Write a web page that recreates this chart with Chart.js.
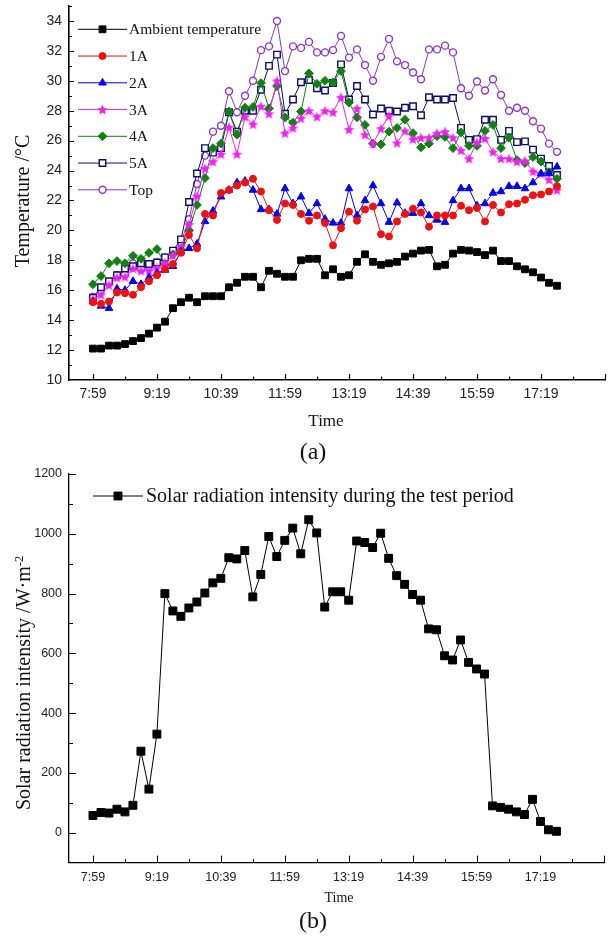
<!DOCTYPE html>
<html><head><meta charset="utf-8">
<script src="https://cdn.jsdelivr.net/npm/chart.js@4.4.1/dist/chart.umd.min.js"></script>
<style>
html,body{margin:0;padding:0;background:#fff;}
#wrap{position:relative;width:611px;height:940px;overflow:hidden;background:#fff;}
canvas{position:absolute;left:0;}
.t{position:absolute;font-family:"Liberation Serif","Times New Roman",serif;color:#111;white-space:nowrap;transform:translate(-50%,-50%);line-height:1;}
.rot{transform:translate(-50%,-50%) rotate(-90deg);}
sup{font-size:0.62em;vertical-align:0.55em;}
</style></head>
<body><div id="wrap">
<canvas id="ca" width="611" height="440" style="top:0"></canvas>
<canvas id="cb" width="611" height="450" style="top:460px"></canvas>
<div class="t rot" style="left:22px;top:201px;font-size:20px;">Temperature /°C</div>
<div class="t" style="left:326px;top:420px;font-size:17px;">Time</div>
<div class="t" style="left:313px;top:451px;font-size:24px;">(a)</div>
<div class="t rot" style="left:23px;top:683px;font-size:20px;">Solar radiation intensity /W·m<sup>-2</sup></div>
<div class="t" style="left:339px;top:898px;font-size:14px;">Time</div>
<div class="t" style="left:313px;top:920px;font-size:24px;">(b)</div>
</div>
<script>
// ---------- data ----------
const times = ['7:59','8:09','8:19','8:29','8:39','8:49','8:59','9:09','9:19','9:29',
 '9:39','9:49','9:59','10:09','10:19','10:29','10:39','10:49','10:59','11:09',
 '11:19','11:29','11:39','11:49','11:59','12:09','12:19','12:29','12:39','12:49',
 '12:59','13:09','13:19','13:29','13:39','13:49','13:59','14:09','14:19','14:29',
 '14:39','14:49','14:59','15:09','15:19','15:29','15:39','15:49','15:59','16:09',
 '16:19','16:29','16:39','16:49','16:59','17:09','17:19','17:29','17:39'];
const xTickLabels = ['7:59','9:19','10:39','11:59','13:19','14:39','15:59','17:19'];
const yTickLabelsA = [10,12,14,16,18,20,22,24,26,28,30,32,34];
const yTickLabelsB = [0,200,400,600,800,1000,1200];

const ambient = [12.1,12.1,12.3,12.3,12.4,12.6,12.8,13.1,13.5,13.9,
 14.8,15.2,15.5,15.2,15.6,15.6,15.6,16.2,16.5,16.9,
 16.9,16.2,17.3,17.1,16.9,16.9,18.0,18.1,18.1,17.0,
 17.4,16.9,17.0,17.9,18.4,17.9,17.7,17.8,17.9,18.25,
 18.45,18.65,18.7,17.6,17.7,18.45,18.7,18.65,18.55,18.35,
 18.65,17.95,17.95,17.6,17.4,17.2,16.85,16.5,16.3];
const s1A = [15.2,15.1,15.25,15.85,15.8,15.7,16.2,16.6,17.0,17.4,
 17.75,18.5,19.7,18.8,21.1,21.0,22.5,22.7,23.0,23.2,
 23.45,22.6,21.35,20.7,21.8,21.7,21.1,20.65,21.0,20.5,
 19.0,20.15,21.25,20.65,21.4,21.6,19.75,19.6,20.6,21.1,
 21.45,21.2,20.25,21.0,21.0,21.0,21.65,21.35,21.5,20.6,
 21.7,21.2,21.75,21.8,22.05,22.35,22.4,22.6,22.95];
const s2A = [15.25,14.95,14.8,16.1,16.0,16.6,16.4,16.85,17.15,17.35,
 17.6,18.6,18.8,19.1,20.6,21.3,22.25,22.7,23.2,23.3,
 22.7,21.4,21.4,21.1,22.8,21.8,22.25,21.15,21.8,20.75,
 20.5,20.5,22.8,21.0,22.0,23.0,21.8,20.55,21.85,21.15,
 21.15,21.8,21.0,20.7,20.55,22.0,22.8,22.8,21.65,21.8,
 22.5,22.6,22.95,22.95,22.8,23.2,23.8,23.8,24.25];
const s3A = [15.4,15.7,16.35,16.85,16.9,17.45,17.3,17.3,17.5,17.85,
 18.35,18.9,20.4,22.3,24.15,24.6,25.1,26.9,25.1,27.6,
 27.1,28.3,27.8,30.0,26.5,26.85,27.5,28.0,27.6,28.0,
 27.9,28.9,26.75,28.15,26.4,25.8,26.8,27.65,25.85,26.65,
 26.1,26.2,26.2,26.5,26.6,26.2,25.35,24.8,25.9,26.15,
 25.25,24.8,24.8,24.6,24.65,23.95,23.8,23.4,22.7];
const s4A = [16.4,16.95,17.8,17.95,17.8,18.3,18.1,18.5,18.75,17.7,
 18.4,18.7,20.0,21.7,23.5,25.5,25.8,27.95,26.4,28.2,
 28.25,29.85,28.15,29.65,27.55,27.2,27.95,30.5,29.8,30.0,
 29.9,30.65,28.55,27.55,27.05,25.8,25.75,26.6,26.85,27.4,
 26.5,25.55,25.8,26.3,26.25,25.5,26.55,25.65,25.65,26.65,
 27.05,25.5,26.2,24.7,24.5,24.9,24.6,23.9,23.45];
const s5A = [15.5,16.2,16.6,17.0,17.45,17.6,17.8,17.75,17.85,18.2,
 18.65,19.4,21.9,23.8,25.5,25.2,25.5,27.9,26.6,28.0,
 28.0,29.4,31.0,31.75,27.8,28.75,29.9,30.05,29.5,29.35,
 29.85,31.1,28.75,29.65,28.75,27.75,28.15,28.0,27.95,28.2,
 28.3,27.7,28.9,28.75,28.75,28.85,26.85,26.05,26.1,27.4,
 27.4,26.05,26.65,25.9,25.95,25.4,24.8,24.3,23.7];
const sTop = [15.55,16.0,16.5,17.0,17.05,17.8,17.4,17.6,17.85,18.2,
 18.5,19.2,20.75,23.1,25.0,26.6,27.0,29.3,27.9,29.0,
 30.0,32.05,32.3,34.0,30.65,32.3,32.2,32.6,31.9,31.9,
 32.05,33.0,31.55,32.1,31.05,30.0,31.6,32.8,31.3,31.05,
 30.55,30.1,32.1,32.1,32.35,31.9,29.5,29.0,29.95,29.35,
 30.1,29.05,28.0,28.2,28.0,27.3,26.8,25.8,25.25];
const solar = [58,68,66,79,70,92,273,146,330,800,
 742,724,752,772,802,836,851,920,916,944,
 789,864,991,924,978,1019,933,1047,1003,755,
 806,806,778,976,971,954,1002,918,860,831,
 797,778,682,679,592,578,645,570,548,531,
 90,85,79,70,61,112,38,10,5];

// ---------- helpers ----------
const mins = s => { const [h,m] = s.split(':').map(Number); return h*60+m; };
const t0 = mins(times[0]);
const toXY = arr => arr.map((v,i) => ({x: mins(times[i]) - t0, y: v}));
const xTickVals = xTickLabels.map(s => mins(s) - t0);

function makeStar(color, size){
  const c = document.createElement('canvas'); c.width = c.height = size;
  const g = c.getContext('2d'); g.fillStyle = color; g.beginPath();
  const R = size/2, r = R*0.45, cx = size/2, cy = size/2 + 0.6;
  for (let k=0;k<10;k++){ const a = -Math.PI/2 + k*Math.PI/5; const rr = k%2 ? r : R;
    g.lineTo(cx + rr*Math.cos(a), cy + rr*Math.sin(a)); }
  g.closePath(); g.fill(); return c;
}

function ds(label, arr, color, style, radius, fill, bw){
  return {label, data: toXY(arr), borderColor: color, backgroundColor: color, borderWidth: 1,
    pointStyle: style, pointRadius: radius, pointHoverRadius: radius,
    pointBackgroundColor: fill || color, pointBorderColor: color, pointBorderWidth: bw || 1, tension: 0};
}

const axisTicks = {
  id: 'axisTicks',
  afterDraw(chart, args, o){
    const ctx = chart.ctx, xs = chart.scales.x, ys = chart.scales.y, ca = chart.chartArea;
    ctx.save(); ctx.strokeStyle = '#000'; ctx.lineWidth = o.width; ctx.beginPath();
    const xs0 = xTickVals[0], xstep = xTickVals[1] - xTickVals[0];
    for (let v = xs0 - xstep; v <= xs.max + 0.1; v += xstep/2){
      const p = xs.getPixelForValue(v); if (p < ca.left + 1 || p > ca.right) continue;
      const major = Math.abs(((v - xs0) / xstep) - Math.round((v - xs0)/xstep)) < 1e-6;
      const len = major ? o.xMaj : o.xMin;
      ctx.moveTo(Math.round(p)+0.5, ca.bottom); ctx.lineTo(Math.round(p)+0.5, ca.bottom - len);
    }
    for (let v = ys.min; v <= ys.max + 1e-6; v += o.yMinorStep){
      const p = ys.getPixelForValue(v); if (p > ca.bottom - 1) continue;
      const major = Math.abs(v/o.yMajorStep - Math.round(v/o.yMajorStep)) < 1e-6;
      const len = major ? o.yMaj : o.yMin;
      ctx.moveTo(ca.left, Math.round(p)+0.5); ctx.lineTo(ca.left + len, Math.round(p)+0.5);
    }
    ctx.stroke(); ctx.restore();
  }
};

const lineLegend = {
  id: 'lineLegend',
  afterDraw(chart, args, o){
    const ctx = chart.ctx;
    chart.data.datasets.forEach((d, i) => {
      const y = o.y + i*o.dy, xm = (o.x0 + o.x1)/2;
      ctx.save();
      ctx.strokeStyle = d.borderColor; ctx.lineWidth = 1;
      ctx.beginPath(); ctx.moveTo(o.x0, y); ctx.lineTo(o.x1, y); ctx.stroke();
      ctx.fillStyle = d.pointBackgroundColor; ctx.strokeStyle = d.pointBorderColor; ctx.lineWidth = d.pointBorderWidth;
      Chart.helpers.drawPoint(ctx, {pointStyle: d.pointStyle, radius: d.pointRadius, borderWidth: d.pointBorderWidth, rotation: 0}, xm, y);
      ctx.fillStyle = '#111'; ctx.font = o.font; ctx.textBaseline = 'middle'; ctx.textAlign = 'left';
      ctx.fillText(d.label, o.tx, y + 1);
      ctx.restore();
    });
  }
};

function xScale(fontSize, pad, h, bw){
  return {type: 'linear', min: -30, max: 640,
    grid: {display: false, drawTicks: false}, border: {display: true, color: '#000', width: bw},
    afterBuildTicks: s => { s.ticks = xTickVals.map(v => ({value: v})); },
    ticks: {padding: pad, autoSkip: false, maxRotation: 0, color: '#222',
      font: {family: 'Liberation Sans', size: fontSize}, callback: (v, i) => xTickLabels[i]},
    afterFit: s => { s.height = h; s.paddingLeft = 0; s.paddingRight = 0; }};
}
function yScale(min, max, vals, fontSize, pad, bw){
  return {type: 'linear', min, max,
    grid: {display: false, drawTicks: false}, border: {display: true, color: '#000', width: bw},
    afterBuildTicks: s => { s.ticks = vals.map(v => ({value: v})); },
    ticks: {padding: pad, color: '#222', font: {family: 'Liberation Sans', size: fontSize}, callback: v => String(v)},
    afterFit: s => { s.width = 69; s.paddingTop = 0; s.paddingBottom = 0; }};
}

// ---------- chart (a) ----------
const star = makeStar('#ee22ee', 11);
new Chart(document.getElementById('ca'), {
  type: 'line',
  data: {datasets: [
    ds('Ambient temperature', ambient, '#000000', 'rect', 4.8),
    ds('1A', s1A, '#ee1111', 'circle', 3.5),
    ds('2A', s2A, '#0000ee', 'triangle', 4.4),
    ds('3A', s3A, '#ee22ee', star, 5),
    ds('4A', s4A, '#108010', 'rectRot', 4.4),
    ds('5A', s5A, '#0c0c6e', 'rect', 4.6, '#ffffff', 1.4),
    ds('Top', sTop, '#8c35c8', 'circle', 3.5, '#ffffff', 1.4)
  ]},
  options: {
    responsive: false, animation: false, events: [],
    layout: {padding: {top: 5.7, right: 0, left: 0, bottom: 0}},
    plugins: {legend: {display: false}, tooltip: {enabled: false},
      axisTicks: {width: 1.2, xMaj: 6, xMin: 3.5, yMaj: 5, yMin: 3, yMajorStep: 2, yMinorStep: 1},
      lineLegend: {x0: 78, x1: 127, y: 29.3, dy: 26.75, tx: 129, font: '15.5px "Liberation Serif"'}},
    scales: {x: xScale(14, 6, 60, 1.6), y: yScale(10, 35, yTickLabelsA, 14, 7, 1.6)}
  },
  plugins: [axisTicks, lineLegend]
});

// ---------- chart (b) ----------
new Chart(document.getElementById('cb'), {
  type: 'line',
  data: {datasets: [
    ds('Solar radiation intensity during the test period', solar, '#000000', 'rect', 5.6)
  ]},
  options: {
    responsive: false, animation: false, events: [],
    layout: {padding: {top: 14, right: 0, left: 0, bottom: 0}},
    plugins: {legend: {display: false}, tooltip: {enabled: false},
      axisTicks: {width: 1, xMaj: 7, xMin: 3.7, yMaj: 7, yMin: 4, yMajorStep: 200, yMinorStep: 100},
      lineLegend: {x0: 93, x1: 143, y: 36, dy: 0, tx: 146, font: '20px "Liberation Serif"'}},
    scales: {x: xScale(12.5, 7, 47.3, 1.3), y: yScale(-100, 1200, yTickLabelsB, 12.5, 7, 1.3)}
  },
  plugins: [axisTicks, lineLegend]
});
</script>
</body></html>
